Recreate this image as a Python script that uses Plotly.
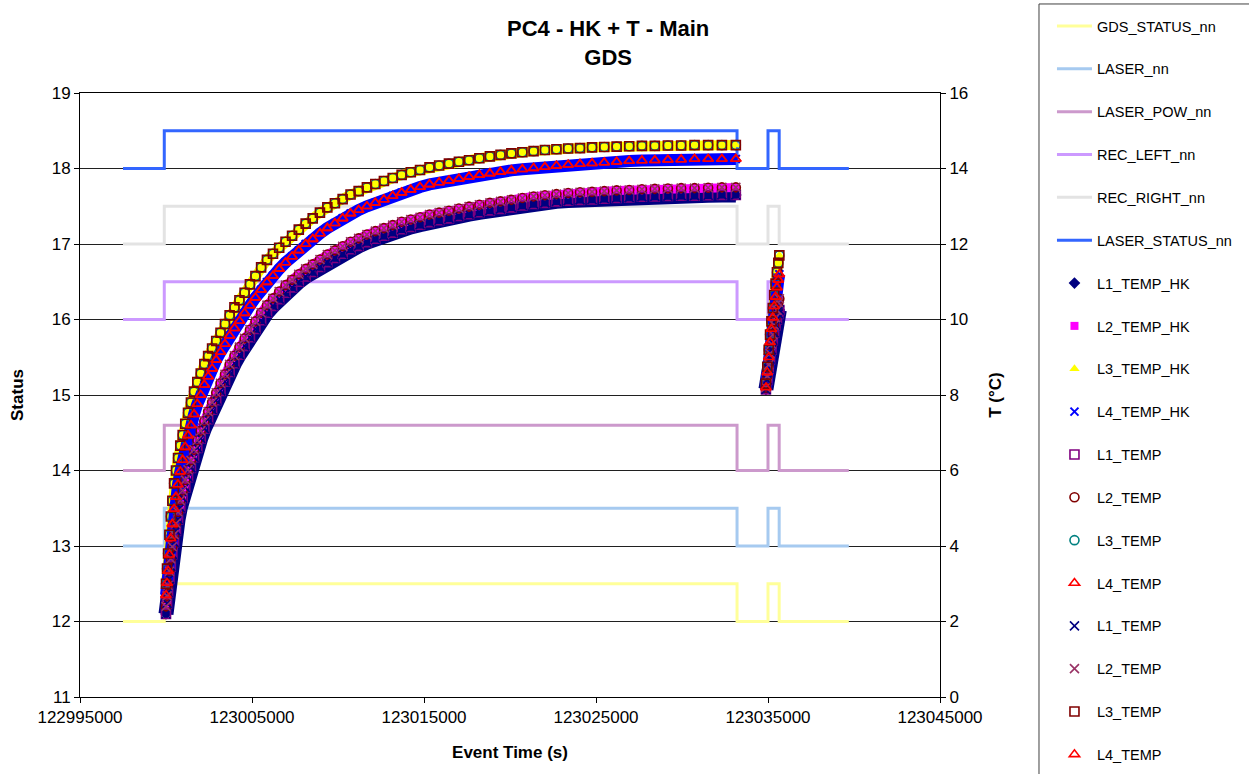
import plotly.graph_objects as go

# ---- time base -------------------------------------------------------------
T0 = 123000000  # heater switch-on, event time (s)

# status signals: switch times (s) and levels per signal
status_t = [122997500, 122999900, 123033200, 123035000, 123035650, 123039700]
gds_status = [12, 12.5, 12, 12.5, 12, 12]
laser = [13, 13.5, 13, 13.5, 13, 13]
laser_pow = [14, 14.6, 14, 14.6, 14, 14]
rec_left = [16, 16.5, 16, 16.5, 16, 16]
rec_right = [17, 17.5, 17, 17.5, 17, 17]
laser_status = [18, 18.5, 18, 18.5, 18, 18]

# temperature samples, seconds after T0
elapsed = [0, 60, 120, 200, 280, 370, 470, 580, 700, 830,
           970, 1120, 1280, 1450, 1630, 1820, 2020, 2230, 2450, 2680,
           2920, 3170, 3430, 3700, 3980, 4270, 4570, 4880, 5200, 5530,
           5870, 6220, 6580, 6950, 7330, 7720, 8120, 8530, 8950, 9380,
           9820, 10270, 10730, 11200, 11680, 12170, 12670, 13180, 13700, 14230,
           14770, 15320, 15880, 16450, 17030, 17620, 18220, 18830, 19450, 20080,
           20720, 21370, 22030, 22700, 23380, 24070, 24770, 25480, 26200, 26930,
           27670, 28420, 29180, 29950, 30730, 31520, 32320, 33130]

temp_l1 = [2.2, 2.48, 2.76, 3.13, 3.46, 3.78, 4.1, 4.4, 4.7, 5.01,
           5.27, 5.55, 5.82, 6.07, 6.35, 6.6, 6.85, 7.11, 7.36, 7.61,
           7.86, 8.11, 8.35, 8.61, 8.84, 9.07, 9.3, 9.53, 9.75, 9.98,
           10.18, 10.36, 10.54, 10.71, 10.85, 11.0, 11.14, 11.26, 11.39, 11.52,
           11.63, 11.74, 11.86, 11.95, 12.05, 12.14, 12.22, 12.3, 12.39, 12.45,
           12.51, 12.58, 12.63, 12.68, 12.74, 12.79, 12.84, 12.89, 12.93, 12.97,
           13.02, 13.06, 13.09, 13.13, 13.15, 13.17, 13.18, 13.2, 13.22, 13.23,
           13.25, 13.26, 13.27, 13.28, 13.28, 13.29, 13.3, 13.3]

temp_l2 = [2.4, 2.68, 2.96, 3.33, 3.66, 3.98, 4.3, 4.6, 4.9, 5.21,
           5.47, 5.75, 6.02, 6.27, 6.55, 6.8, 7.05, 7.31, 7.56, 7.81,
           8.06, 8.31, 8.55, 8.81, 9.04, 9.27, 9.5, 9.73, 9.95, 10.18,
           10.38, 10.56, 10.74, 10.91, 11.05, 11.2, 11.34, 11.46, 11.59, 11.72,
           11.83, 11.94, 12.06, 12.15, 12.25, 12.34, 12.42, 12.5, 12.59, 12.65,
           12.71, 12.78, 12.83, 12.88, 12.94, 12.99, 13.04, 13.09, 13.13, 13.17,
           13.22, 13.26, 13.29, 13.32, 13.35, 13.37, 13.38, 13.4, 13.42, 13.43,
           13.45, 13.46, 13.47, 13.48, 13.48, 13.49, 13.5, 13.5]

temp_l3 = [3.0, 3.4, 3.8, 4.3, 4.78, 5.2, 5.66, 6.0, 6.33, 6.66,
           6.94, 7.24, 7.53, 7.8, 8.09, 8.34, 8.57, 8.82, 9.03, 9.23,
           9.43, 9.65, 9.88, 10.11, 10.32, 10.51, 10.71, 10.93, 11.15, 11.38,
           11.58, 11.74, 11.9, 12.06, 12.22, 12.38, 12.54, 12.68, 12.83, 12.97,
           13.08, 13.19, 13.31, 13.4, 13.5, 13.59, 13.67, 13.75, 13.83, 13.9,
           13.96, 14.03, 14.08, 14.13, 14.18, 14.22, 14.27, 14.32, 14.36, 14.4,
           14.43, 14.46, 14.49, 14.51, 14.53, 14.54, 14.56, 14.57, 14.58, 14.59,
           14.6, 14.6, 14.61, 14.61, 14.62, 14.62, 14.62, 14.62]

temp_l4 = [2.7, 3.02, 3.34, 3.77, 4.2, 4.58, 4.98, 5.3, 5.63, 5.97,
           6.28, 6.62, 6.93, 7.2, 7.49, 7.76, 8.0, 8.27, 8.49, 8.7,
           8.93, 9.14, 9.35, 9.57, 9.77, 9.96, 10.17, 10.37, 10.58, 10.79,
           10.99, 11.16, 11.34, 11.51, 11.67, 11.83, 12.0, 12.13, 12.28, 12.42,
           12.55, 12.68, 12.81, 12.9, 13.0, 13.09, 13.18, 13.27, 13.36, 13.44,
           13.51, 13.58, 13.63, 13.68, 13.73, 13.78, 13.83, 13.87, 13.91, 13.95,
           13.98, 14.01, 14.04, 14.07, 14.1, 14.12, 14.14, 14.16, 14.18, 14.2,
           14.21, 14.22, 14.23, 14.24, 14.25, 14.25, 14.25, 14.25]

# second, short heating pulse
reheat_elapsed = [34880, 34960, 35040, 35120, 35200, 35280, 35360, 35440, 35520, 35600, 35660]
reheat_l1 = [8.15, 8.4, 8.7, 8.95, 9.2, 9.45, 9.65, 9.85, 10.0, 10.15, 10.25]
reheat_l2 = [8.2, 8.5, 8.8, 9.1, 9.35, 9.6, 9.85, 10.05, 10.25, 10.45, 10.55]
reheat_l3 = [8.3, 8.75, 9.2, 9.6, 9.95, 10.3, 10.65, 10.95, 11.25, 11.5, 11.7]
reheat_l4 = [8.2, 8.6, 9.0, 9.4, 9.75, 10.05, 10.35, 10.6, 10.85, 11.05, 11.2]

channels = {
    "L1": (temp_l1, reheat_l1),
    "L2": (temp_l2, reheat_l2),
    "L3": (temp_l3, reheat_l3),
    "L4": (temp_l4, reheat_l4),
}


def channel_xy(key):
    main, reheat = channels[key]
    x = [T0 + e for e in elapsed] + [None] + [T0 + e for e in reheat_elapsed]
    y = list(main) + [None] + list(reheat)
    return x, y


fig = go.Figure()

# ---- status step lines (left axis) ----------------------------------------
status_series = [
    ("GDS_STATUS_nn", gds_status, "#ffff99"),
    ("LASER_nn", laser, "#a6caf0"),
    ("LASER_POW_nn", laser_pow, "#cc99cc"),
    ("REC_LEFT_nn", rec_left, "#cc99ff"),
    ("REC_RIGHT_nn", rec_right, "#e3e3e3"),
    ("LASER_STATUS_nn", laser_status, "#3366ff"),
]
for name, levels, color in status_series:
    fig.add_trace(go.Scatter(
        x=status_t, y=levels, name=name, mode="lines",
        line=dict(color=color, width=3, shape="hv"),
        legendgroup=name, yaxis="y",
    ))

# ---- housekeeping temperatures (right axis, dense) ------------------------
hk_series = [
    ("L1_TEMP_HK", "L1", "diamond", "#000080", 9, 15),
    ("L2_TEMP_HK", "L2", "square", "#ff00ff", 8, 9),
    ("L3_TEMP_HK", "L3", "triangle-up", "#ffff00", 9, 10),
    ("L4_TEMP_HK", "L4", "x-thin", "#0000ff", 8, 12),
]
for name, key, symbol, color, size, band in hk_series:
    x, y = channel_xy(key)
    fig.add_trace(go.Scatter(
        x=x, y=y, mode="lines", yaxis="y2", showlegend=False,
        line=dict(color=color, width=band), legendgroup=name, hoverinfo="skip",
    ))
    fig.add_trace(go.Scatter(
        x=x, y=y, name=name, mode="markers", yaxis="y2", legendgroup=name,
        marker=dict(symbol=symbol, color=color, size=size,
                    line=dict(color=color, width=2 if symbol == "x-thin" else 0)),
    ))

# ---- logged temperatures, two files (right axis) ---------------------------
temp_series = [
    ("L1_TEMP", "L1", "square-open", "#800080", "g1"),
    ("L2_TEMP", "L2", "circle-open", "#800000", "g2"),
    ("L3_TEMP", "L3", "circle-open", "#008080", "g3"),
    ("L4_TEMP", "L4", "triangle-up-open", "#ff0000", "g4"),
    ("L1_TEMP", "L1", "x-thin", "#000080", "g5"),
    ("L2_TEMP", "L2", "x-thin", "#993366", "g6"),
    ("L3_TEMP", "L3", "square-open", "#800000", "g7"),
    ("L4_TEMP", "L4", "triangle-up-open", "#ff0000", "g8"),
]
for name, key, symbol, color, grp in temp_series:
    x, y = channel_xy(key)
    fig.add_trace(go.Scatter(
        x=x, y=y, name=name, mode="markers", yaxis="y2", legendgroup=grp,
        marker=dict(symbol=symbol, color=color, size=9,
                    line=dict(color=color, width=1.6)),
    ))

# ---- layout -----------------------------------------------------------------
font_family = "Liberation Sans, Arial, sans-serif"
fig.update_layout(
    width=1249, height=774,
    margin=dict(l=80, r=309, t=93, b=77, autoexpand=False),
    paper_bgcolor="white", plot_bgcolor="white",
    font=dict(family=font_family, size=17, color="black"),
    xaxis=dict(range=[122995000, 123045000], tick0=122995000, dtick=10000,
               tickformat="d", ticks="outside", ticklen=5, tickcolor="black",
               showline=True, linecolor="black", linewidth=1, mirror=True,
               showgrid=False, zeroline=False,
               title=dict(text="<b>Event Time (s)</b>", standoff=19,
                          font=dict(size=17))),
    yaxis=dict(range=[11, 19], dtick=1, ticks="outside", ticklen=5,
               tickcolor="black", showline=True, linecolor="black",
               showgrid=True, gridcolor="#202020", gridwidth=1, zeroline=False,
               title=dict(text="<b>Status</b>", standoff=23, font=dict(size=17))),
    yaxis2=dict(range=[0, 16], dtick=2, overlaying="y", side="right",
                ticks="outside", ticklen=5, tickcolor="black",
                showline=True, linecolor="black", showgrid=False, zeroline=False,
                title=dict(text="<b>T (°C)</b>", standoff=21, font=dict(size=17))),
    legend=dict(x=1.1302, y=1.1374, xanchor="left", yanchor="top",
                font=dict(size=14.5, family=font_family),
                borderwidth=0, bgcolor="rgba(0,0,0,0)",
                traceorder="grouped", tracegroupgap=21, itemwidth=35,
                maxheight=900),
    showlegend=True,
    annotations=[dict(text="<b>PC4 - HK + T - Main<br>GDS</b>",
                      xref="paper", yref="paper", x=0.614, y=1.082,
                      xanchor="center", yanchor="middle", showarrow=False,
                      font=dict(size=22, family=font_family, color="black"))],
    shapes=[dict(type="rect", xref="paper", yref="paper",
                 x0=1.1151, x1=1.4186, y0=-0.1705, y1=1.1474,
                 line=dict(color="#404040", width=1), fillcolor="rgba(0,0,0,0)")],
)

fig.write_html("out.html")
